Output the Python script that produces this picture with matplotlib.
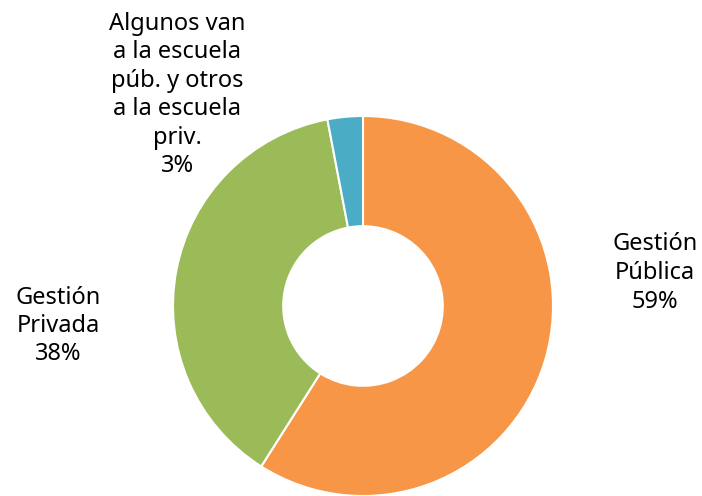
import matplotlib.pyplot as plt

labels = ['Gestión\nPública\n59%', 'Gestión\nPrivada\n38%',
          'Algunos van\na la escuela\npúb. y otros\na la escuela\npriv.\n3%']
values = [59, 38, 3]
colors = ['#F79646', '#9BBB59', '#4BACC6']

plt.rcParams['font.family'] = ['Noto Sans', 'DejaVu Sans']

W, H = 702, 496
fig = plt.figure(figsize=(W / 100, H / 100), dpi=100)
# pie centred at (363, 306) px with radius 190 px
ax = fig.add_axes([173 / W, 0, 380 / W, 380 / H])
ax.pie(values, colors=colors, startangle=90, counterclock=False,
       wedgeprops=dict(width=0.58, edgecolor='white', linewidth=1.5))
ax.set_xlim(-1, 1)
ax.set_ylim(-1, 1)
ax.set_aspect('equal')

# label positions in pixels (centre of each block)
label_pos = [(655, 273), (58, 326), (177, 95)]
for text, (x, y) in zip(labels, label_pos):
    fig.text(x / W, 1 - y / H, text, ha='center', va='center',
             fontsize=17, linespacing=1.25, color='black')

fig.savefig('out.png', dpi=100)
